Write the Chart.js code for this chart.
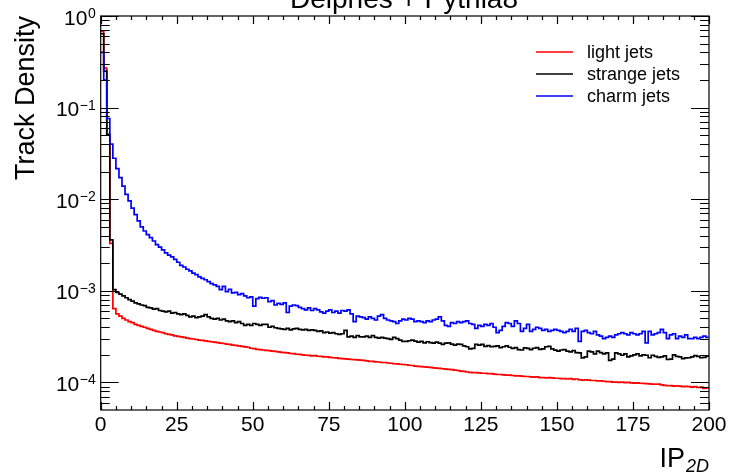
<!DOCTYPE html>
<html>
<head>
<meta charset="utf-8">
<script src="https://cdn.jsdelivr.net/npm/chart.js@4.4.0/dist/chart.umd.min.js"></script>
<style>
  html, body { margin: 0; padding: 0; background: #fff; }
  canvas { display: block; }
</style>
</head>
<body>
<canvas id="myChart" width="731" height="476"></canvas>
<script>
// track density per 1-unit bin of IP_2D (bins 0..199)
const binWidth = 1;

const light = [
  0.68, 0.27, 0.050, 0.0033, 0.00064, 0.00056, 0.00053, 0.00050, 0.00048, 0.00046,
  0.00045, 0.00043, 0.00042, 0.00041, 0.00040, 0.00039, 0.00038, 0.00037, 0.00036, 0.000355,
  0.00035, 0.00034, 0.000335, 0.00033, 0.000322, 0.000318, 0.000315, 0.00031, 0.000305, 0.0003,
  0.000298, 0.000294, 0.00029, 0.000288, 0.000284, 0.00028, 0.000278, 0.000275, 0.000272, 0.000268,
  0.000266, 0.000262, 0.00026, 0.000256, 0.000254, 0.00025, 0.000248, 0.000244, 0.000242, 0.000236,
  0.000234, 0.00023, 0.000228, 0.000226, 0.000224, 0.000222, 0.00022, 0.000218, 0.000215, 0.000213,
  0.000212, 0.00021, 0.000207, 0.000206, 0.000203, 0.000202, 0.0002, 0.000198, 0.000197, 0.000195,
  0.000196, 0.000193, 0.000192, 0.00019, 0.00019, 0.000188, 0.000186, 0.000185, 0.000183, 0.000182,
  0.000181, 0.00018, 0.000178, 0.000177, 0.000176, 0.000175, 0.000174, 0.000172, 0.00017, 0.00017,
  0.000168, 0.000167, 0.000165, 0.000165, 0.000163, 0.000162, 0.00016, 0.000159, 0.000158, 0.000157,
  0.000156, 0.000154, 0.000153, 0.000151, 0.00015, 0.000149, 0.000148, 0.000147, 0.000146, 0.000144,
  0.000143, 0.000142, 0.000141, 0.00014, 0.000139, 0.000138, 0.000136, 0.000135, 0.000133, 0.000132,
  0.00013, 0.000129, 0.000128, 0.000128, 0.000127, 0.000126, 0.000126, 0.000125, 0.000125, 0.000123,
  0.000122, 0.000122, 0.000121, 0.00012, 0.00012, 0.000119, 0.000118, 0.000118, 0.000117, 0.000116,
  0.000116, 0.000115, 0.000114, 0.000115, 0.000113, 0.000113, 0.000112, 0.000113, 0.000112, 0.000111,
  0.000111, 0.00011, 0.00011, 0.000109, 0.00011, 0.000108, 0.000109, 0.000107, 0.000106, 0.000107,
  0.000106, 0.000105, 0.000105, 0.000104, 0.000104, 0.000103, 0.000102, 0.000102, 0.000101, 0.000101,
  0.0001, 0.000101, 0.0000995, 0.0001, 0.000099, 0.0000985, 0.000099, 0.000098, 0.0000975, 0.000097,
  0.0000965, 0.000096, 0.0000955, 0.000096, 0.000094, 0.000093, 0.000092, 0.0000925, 0.000091, 0.000092,
  0.000091, 0.00009, 0.0000905, 0.00009, 0.000089, 0.00009, 0.000088, 0.000089, 0.000086, 0.000087
];

const strange = [
  0.64, 0.25, 0.051, 0.0036, 0.00103, 0.00096, 0.00092, 0.00088, 0.00084, 0.0008,
  0.00077, 0.00074, 0.00072, 0.00070, 0.00069, 0.00066, 0.00065, 0.00063, 0.00064, 0.00061,
  0.0006, 0.00059, 0.0006, 0.00057, 0.00058, 0.00056, 0.00055, 0.00056, 0.00054, 0.00052,
  0.00053, 0.00051, 0.00052, 0.00053, 0.00055, 0.00052, 0.0005, 0.00049, 0.0005, 0.00048,
  0.00049, 0.00047, 0.00046, 0.00047, 0.00045, 0.00046, 0.00044, 0.00042, 0.00043, 0.00042,
  0.00044, 0.00043, 0.00042, 0.00043, 0.00043, 0.0004, 0.00041, 0.000395, 0.00039, 0.000385,
  0.00038, 0.00039, 0.000375, 0.000385, 0.00039, 0.00038, 0.000375, 0.00038, 0.00037, 0.000375,
  0.00037, 0.00036, 0.000365, 0.00035, 0.000355, 0.000345, 0.00035, 0.00034, 0.000335, 0.00034,
  0.00037, 0.000315, 0.00032, 0.00031, 0.000325, 0.000315, 0.000315, 0.00032, 0.00031, 0.000325,
  0.00031, 0.000305, 0.00031, 0.000305, 0.0003, 0.000295, 0.00031, 0.0003, 0.00029, 0.00028,
  0.00028, 0.000285, 0.00029, 0.000282, 0.000275, 0.00028, 0.00027, 0.000278, 0.000272, 0.000268,
  0.000275, 0.000268, 0.00026, 0.000268, 0.00027, 0.000262, 0.000255, 0.000262, 0.00026, 0.00025,
  0.000245, 0.000232, 0.000235, 0.00026, 0.000255, 0.00026, 0.000248, 0.000252, 0.000245, 0.000248,
  0.00025, 0.00024, 0.000245, 0.00025, 0.000242, 0.000235, 0.00024, 0.000228, 0.000226, 0.000238,
  0.000235, 0.000228, 0.000236, 0.00024, 0.00023, 0.000232, 0.000245, 0.000248, 0.000232, 0.000225,
  0.00022, 0.000226, 0.000228, 0.00022, 0.000215, 0.000222, 0.000212, 0.00021, 0.000185, 0.00019,
  0.00022, 0.000215, 0.000205, 0.00022, 0.000212, 0.000205, 0.00021, 0.000174, 0.00018, 0.00021,
  0.000205, 0.000198, 0.000205, 0.00019, 0.000195, 0.0002, 0.000205, 0.000195, 0.0002, 0.000198,
  0.000186, 0.000198, 0.000192, 0.000188, 0.00019, 0.000195, 0.000178, 0.00018, 0.0002, 0.000192,
  0.00019, 0.000182, 0.000185, 0.000186, 0.00019, 0.000196, 0.000192, 0.000186, 0.000188, 0.000193
];

const charm = [
  0.40, 0.20, 0.076, 0.040, 0.028, 0.0216, 0.0172, 0.0139, 0.0113, 0.0096,
  0.0080, 0.0068, 0.0058, 0.0050, 0.0045, 0.0041, 0.0038, 0.0035, 0.0032, 0.0030,
  0.0028, 0.0026, 0.00245, 0.00235, 0.0022, 0.00205, 0.0019, 0.00182, 0.00172, 0.00165,
  0.00156, 0.0015, 0.00142, 0.00137, 0.00132, 0.00126, 0.0012, 0.00116, 0.00112, 0.00103,
  0.00112, 0.00098, 0.00104, 0.00095, 0.00096, 0.00091, 0.00093, 0.00088, 0.00084, 0.00086,
  0.00068, 0.00082, 0.00085, 0.00083, 0.00084, 0.00076, 0.00078, 0.0007, 0.00073, 0.00071,
  0.00074, 0.00058, 0.00068, 0.0007, 0.00069, 0.00066, 0.00064, 0.00062, 0.00065, 0.00061,
  0.00064, 0.00062, 0.00059, 0.00057, 0.0006, 0.00062, 0.00058, 0.0006, 0.00057, 0.00061,
  0.0006, 0.00062, 0.00056, 0.00046, 0.00053, 0.00052, 0.00051, 0.00049, 0.00052, 0.0005,
  0.00048, 0.00053, 0.00055, 0.0005, 0.00048, 0.00047, 0.00046, 0.00044, 0.00047, 0.00049,
  0.00048, 0.0005, 0.00049, 0.00046, 0.00047, 0.00046, 0.00045, 0.00047, 0.00046, 0.00048,
  0.00049, 0.00052, 0.00047, 0.00042, 0.00041, 0.00045, 0.00044, 0.00046, 0.00045, 0.00046,
  0.00047, 0.00044, 0.00043, 0.00039, 0.00042, 0.00041, 0.00043, 0.00042, 0.00044, 0.0004,
  0.00035, 0.00037, 0.00041, 0.00045, 0.00044, 0.00041, 0.00047, 0.00044, 0.00036, 0.00039,
  0.00043, 0.00036, 0.00038, 0.0004, 0.00039, 0.00037, 0.00038, 0.00036, 0.00037, 0.00038,
  0.00037, 0.00036, 0.00035, 0.00036, 0.00038, 0.00036, 0.00039, 0.00028, 0.00036, 0.00037,
  0.00035, 0.00034, 0.00036, 0.00033, 0.00032, 0.0003, 0.00031, 0.00032, 0.00031, 0.00033,
  0.00034, 0.00035, 0.00034, 0.00033, 0.00035, 0.00034, 0.00033, 0.00034, 0.00036, 0.00027,
  0.00036, 0.00033, 0.00034, 0.00035, 0.00038, 0.00035, 0.0003, 0.00033, 0.00034, 0.0003,
  0.00032, 0.00031, 0.00033, 0.0003, 0.0003, 0.00031, 0.0003, 0.00031, 0.00032, 0.00031
];

const labels = ['light jets', 'strange jets', 'charm jets'];
const colors = ['#ff0000', '#000000', '#0000ff'];
const xTicks = [0, 25, 50, 75, 100, 125, 150, 175, 200];
const yDecades = [-4, -3, -2, -1, 0];
const xMin = 0, xMax = 200, yMin = 5e-5, yMax = 1;

const FONT = '"Liberation Sans", Arial, Helvetica, sans-serif';

// histogram as step line: one point per bin low edge + closing point at the last edge
function toSteps(vals) {
  const pts = vals.map((v, i) => ({ x: i * binWidth, y: v }));
  pts.push({ x: vals.length * binWidth, y: vals[vals.length - 1] });
  return pts;
}

const rootFrame = {
  id: 'rootFrame',
  afterDraw(chart) {
    const { ctx, chartArea: a, scales: { x, y } } = chart;
    ctx.save();
    ctx.strokeStyle = '#000';
    ctx.fillStyle = '#000';
    ctx.lineWidth = 1.2;
    ctx.strokeRect(a.left, a.top, a.right - a.left, a.bottom - a.top);

    // x ticks, inside, on bottom and top
    ctx.beginPath();
    for (let v = xMin; v <= xMax; v += 5) {
      const px = Math.round(x.getPixelForValue(v)) + 0.5;
      const len = v % 25 === 0 ? 8 : 4;
      ctx.moveTo(px, a.bottom); ctx.lineTo(px, a.bottom - len);
      ctx.moveTo(px, a.top); ctx.lineTo(px, a.top + len);
    }
    // y ticks, log, on left and right
    for (let k = -5; k <= 0; k++) {
      for (let m = 1; m <= 9; m++) {
        const v = m * Math.pow(10, k);
        if (v <= yMin * 1.0001 || v > yMax) continue;
        const py = Math.round(y.getPixelForValue(v)) + 0.5;
        const len = m === 1 ? 18 : 9;
        ctx.moveTo(a.left, py); ctx.lineTo(a.left + len, py);
        ctx.moveTo(a.right, py); ctx.lineTo(a.right - len, py);
      }
    }
    ctx.stroke();

    // x tick labels
    ctx.font = '21px ' + FONT;
    ctx.textAlign = 'center';
    ctx.textBaseline = 'alphabetic';
    xTicks.forEach(t => ctx.fillText(String(t), x.getPixelForValue(t), a.bottom + 21));

    // y tick labels 10^k
    yDecades.forEach(k => {
      const py = y.getPixelForValue(Math.pow(10, k));
      const exp = k < 0 ? '\u2212' + (-k) : String(k);
      ctx.font = '14px ' + FONT;
      const ew = ctx.measureText(exp).width;
      ctx.textAlign = 'left';
      const right = a.left - 5;
      ctx.fillText(exp, right - ew, py + 2);
      ctx.font = '21px ' + FONT;
      ctx.textAlign = 'right';
      ctx.fillText('10', right - ew - 0.5, py + 8.5);
    });

    // axis titles
    ctx.font = '27px ' + FONT;
    ctx.save();
    ctx.translate(34, a.top);
    ctx.rotate(-Math.PI / 2);
    ctx.textAlign = 'right';
    ctx.fillText('Track Density', 0, 0);
    ctx.restore();

    ctx.font = 'italic 18px ' + FONT;
    const sub = '2D';
    const sw = ctx.measureText(sub).width;
    ctx.textAlign = 'right';
    ctx.fillText(sub, a.right, 472);
    ctx.font = '27px ' + FONT;
    ctx.fillText('IP', a.right - sw - 1, 467);

    // title (top clipped by canvas edge)
    ctx.font = '28px ' + FONT;
    ctx.textAlign = 'center';
    ctx.fillText('Delphes + Pythia8', 404, 8);

    // legend
    ctx.font = '18px ' + FONT;
    ctx.textAlign = 'left';
    labels.forEach((lab, i) => {
      const ly = 52 + i * 22;
      ctx.strokeStyle = colors[i];
      ctx.lineWidth = 1.5;
      ctx.beginPath();
      ctx.moveTo(536, ly); ctx.lineTo(573, ly);
      ctx.stroke();
      ctx.fillText(lab, 587, ly + 6);
    });
    ctx.restore();
  }
};

new Chart(document.getElementById('myChart'), {
  type: 'line',
  data: {
    datasets: [
      { label: labels[0], data: toSteps(light), borderColor: colors[0], order: 3 },
      { label: labels[1], data: toSteps(strange), borderColor: colors[1], order: 2 },
      { label: labels[2], data: toSteps(charm), borderColor: colors[2], order: 1 }
    ]
  },
  options: {
    responsive: false,
    animation: false,
    devicePixelRatio: 1,
    layout: { padding: { left: 100.7, right: 22, top: 16, bottom: 66 } },
    elements: {
      line: { borderWidth: 1.7, stepped: true, tension: 0, fill: false },
      point: { radius: 0 }
    },
    scales: {
      x: { type: 'linear', min: xMin, max: xMax, display: false },
      y: { type: 'logarithmic', min: yMin, max: yMax, display: false }
    },
    plugins: {
      legend: { display: false },
      title: { display: false },
      tooltip: { enabled: false }
    }
  },
  plugins: [rootFrame]
});
</script>
</body>
</html>
